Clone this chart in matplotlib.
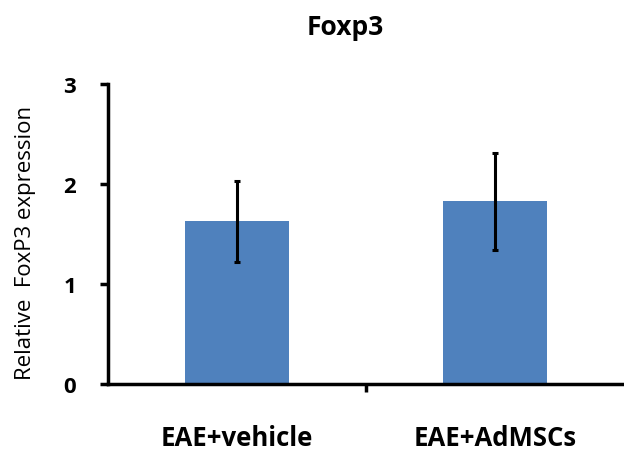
import matplotlib
matplotlib.use("Agg")
import matplotlib.pyplot as plt

categories = ["EAE+vehicle", "EAE+AdMSCs"]
values = [1.63, 1.83]
err_upper = [0.40, 0.48]
err_lower = [0.41, 0.49]
yticks = [0, 1, 2, 3]

plt.rcParams['font.family'] = ['Open Sans', 'DejaVu Sans']

fig = plt.figure(figsize=(6.24, 4.52), dpi=100)
ax = fig.add_axes([0.173, 0.148, 0.827, 0.664])

x = list(range(len(categories)))
ax.bar(x, values, width=0.4, color="#4F81BD", zorder=2)
ax.errorbar(x, values, yerr=[err_lower, err_upper], fmt='none', ecolor='black',
            elinewidth=2.2, capsize=2.5, capthick=2.2, zorder=3)

ax.set_xlim(-0.5, 1.5)
ax.set_ylim(0, 3)
ax.set_yticks(yticks)
ax.set_yticklabels([str(t) for t in yticks], fontsize=16, fontweight='bold')
ax.set_xticks([0.5])
ax.set_xticklabels([""])
ax.tick_params(axis='y', direction='out', length=6, width=2.5, pad=17)
ax.tick_params(axis='x', direction='out', length=6, width=2.5)
for i, c in enumerate(categories):
    ax.text(i, -0.53, c, ha='center', va='center', fontsize=18.5, fontweight='bold')

for s in ['top', 'right']:
    ax.spines[s].set_visible(False)
for s in ['left', 'bottom']:
    ax.spines[s].set_linewidth(2.5)

ax.set_ylabel("Relative  FoxP3 expression", fontsize=16)
ax.yaxis.set_label_coords(-0.14, 0.475)
fig.text(0.553, 0.94, "Foxp3", ha='center', va='center', fontsize=19, fontweight='bold')

fig.savefig("out.png", dpi=100)
